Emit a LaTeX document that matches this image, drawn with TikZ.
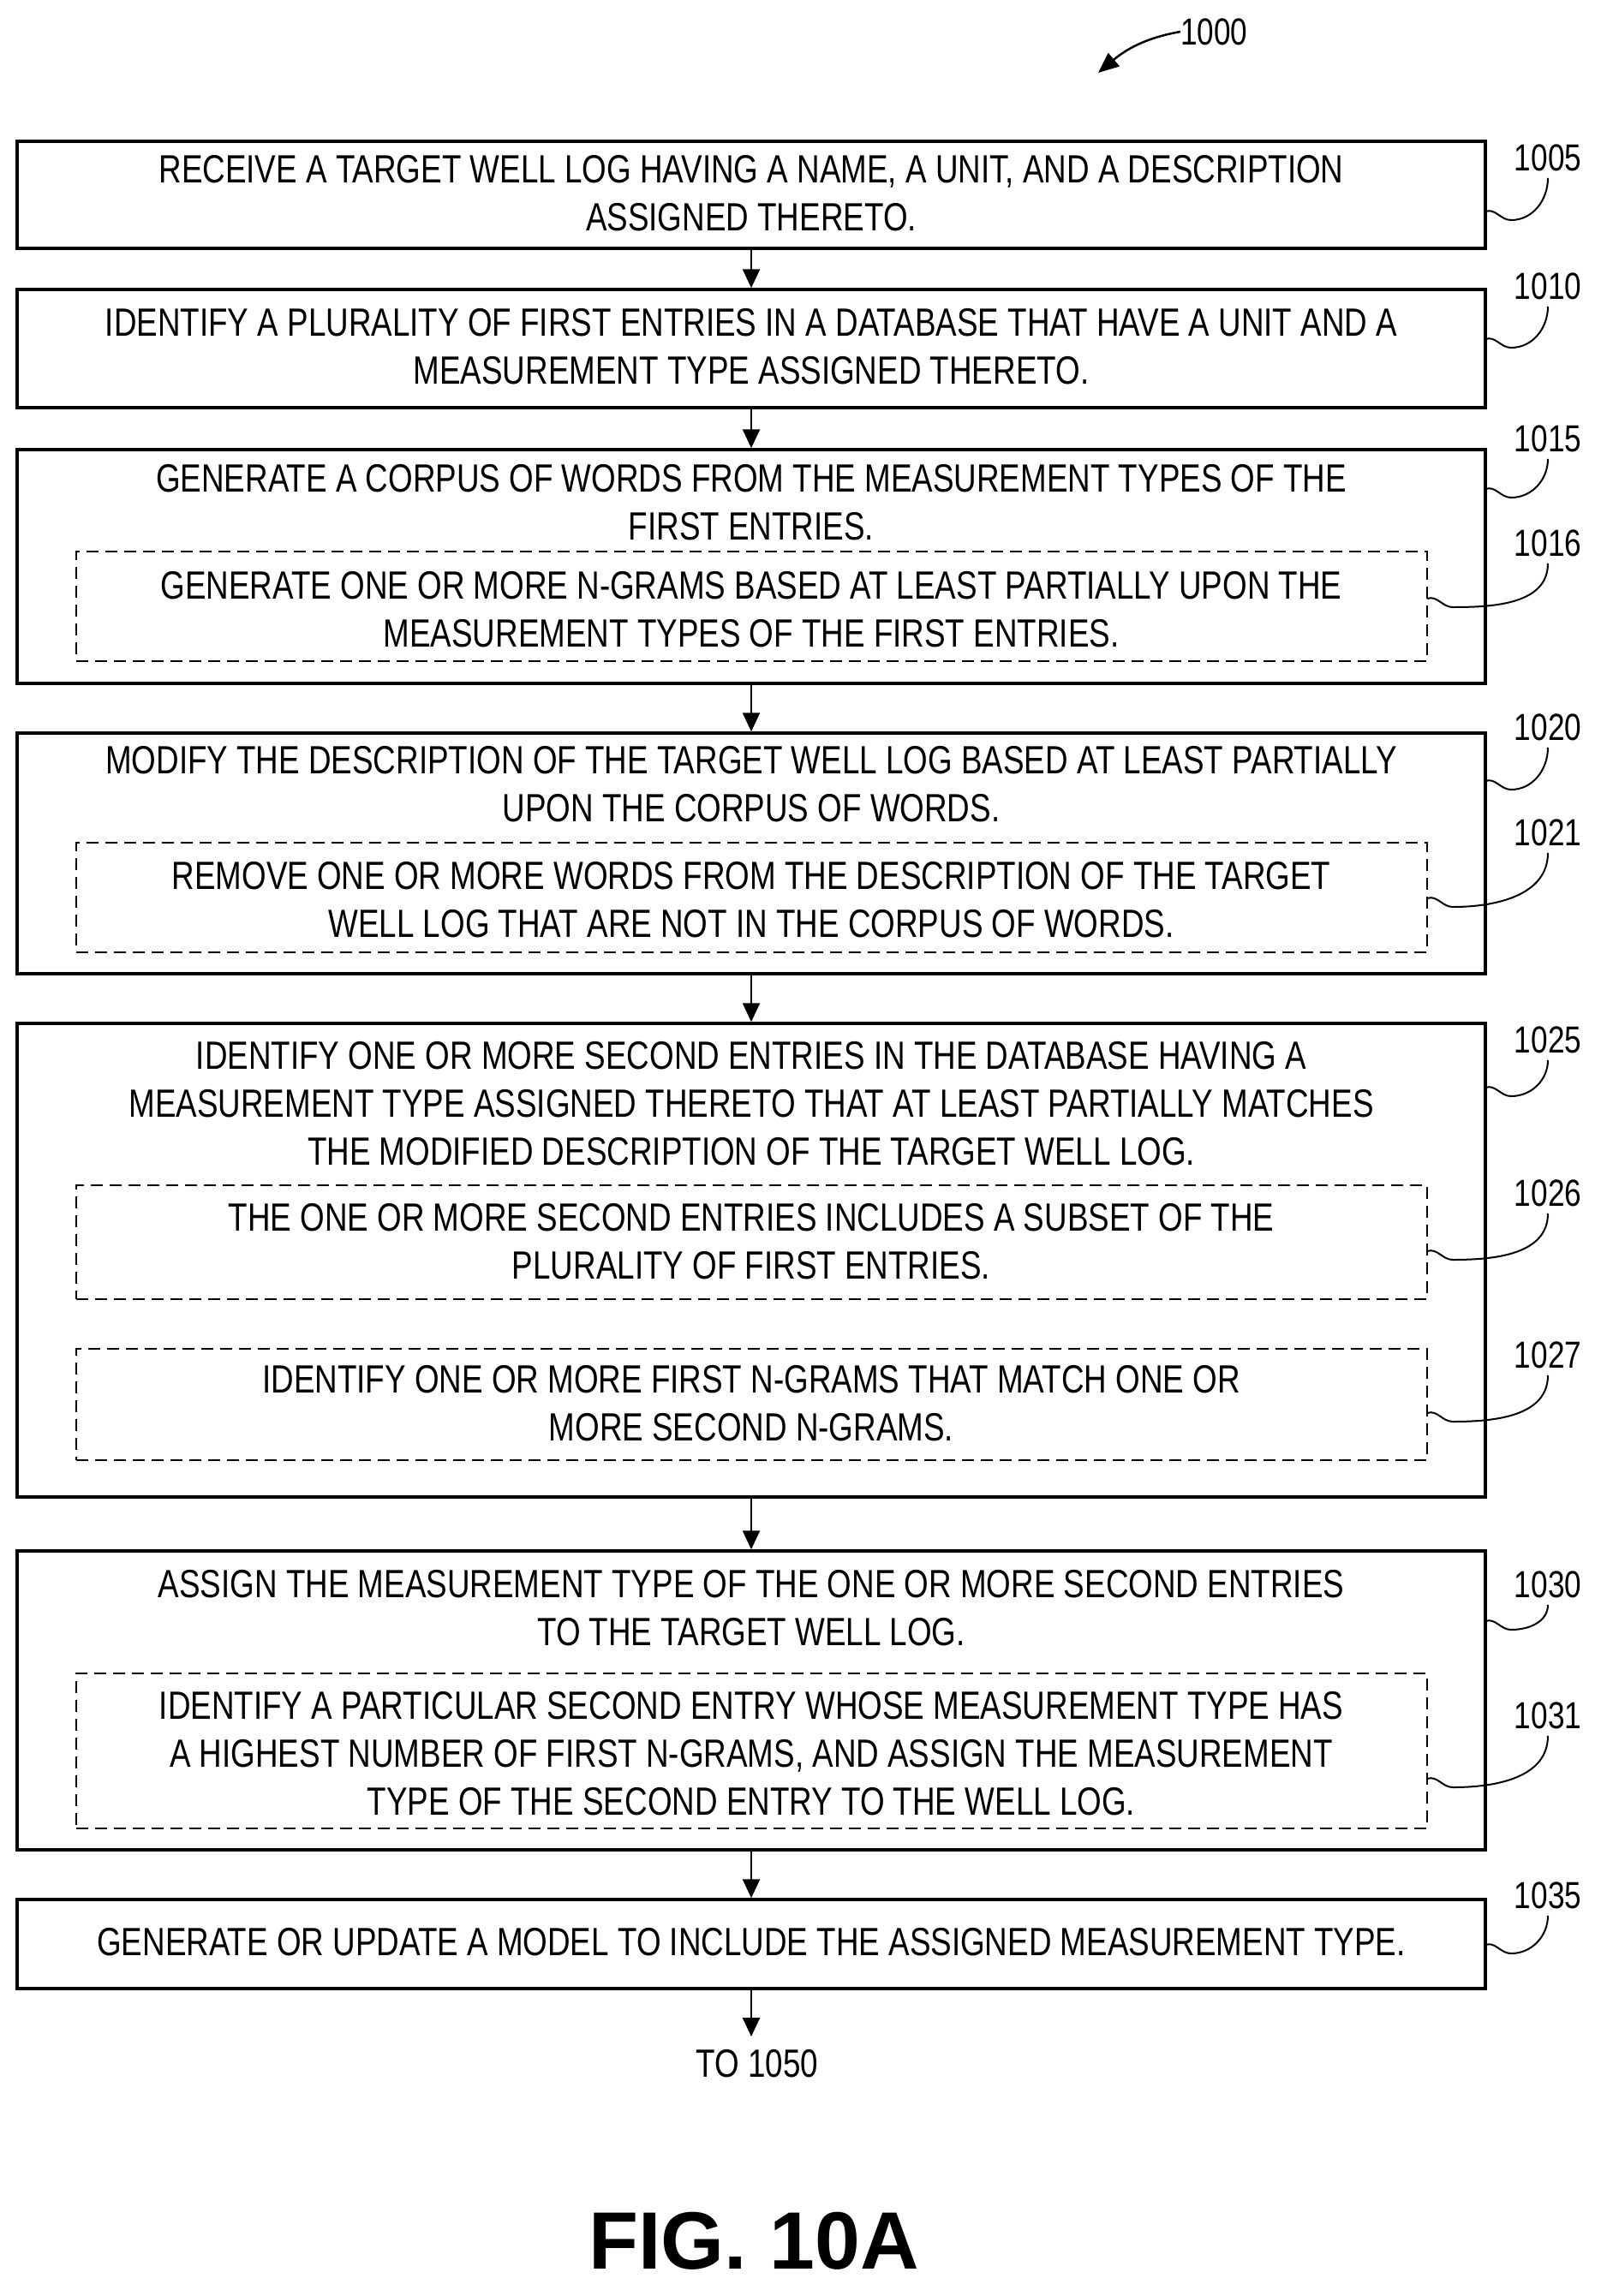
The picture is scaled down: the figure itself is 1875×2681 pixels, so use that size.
\documentclass[tikz,border=0pt]{standalone}
\usepackage{fontspec}
\setmainfont{Liberation Sans}
\newfontfamily\cf[FakeStretch=0.8]{Liberation Sans}
\usetikzlibrary{calc,arrows.meta}
\begin{document}
\begin{tikzpicture}[x=1pt,y=-1pt,
  box/.style={draw,line width=3.5pt},
  dbox/.style={draw,line width=2.5pt,dash pattern=on 14pt off 8pt},
  txt/.style={font=\cf\fontsize{46}{56}\selectfont,align=center,inner sep=0pt},
  ref/.style={font=\cf\fontsize{44}{50}\selectfont,inner sep=0pt},
  arr/.style={line width=2.5pt,-{Triangle[length=22pt,width=20pt]}},
  lead/.style={line width=2pt}]
\useasboundingbox (0,0) rectangle (1875,2681);
% boxes
\node[box,minimum width=1714pt,minimum height=125pt] (b1005) at (877,227.5) {};
\node[box,minimum width=1714pt,minimum height=138pt] (b1010) at (877,407) {};
\node[box,minimum width=1714pt,minimum height=273pt] (b1015) at (877,661.5) {};
\node[dbox,minimum width=1577pt,minimum height=128pt] (b1016) at (877.5,708) {};
\node[box,minimum width=1714pt,minimum height=281pt] (b1020) at (877,996.5) {};
\node[dbox,minimum width=1577pt,minimum height=128pt] (b1021) at (877.5,1048) {};
\node[box,minimum width=1714pt,minimum height=553pt] (b1025) at (877,1471.5) {};
\node[dbox,minimum width=1577pt,minimum height=133pt] (b1026) at (877.5,1450.5) {};
\node[dbox,minimum width=1577pt,minimum height=130pt] (b1027) at (877.5,1640) {};
\node[box,minimum width=1714pt,minimum height=349pt] (b1030) at (877,1985.5) {};
\node[dbox,minimum width=1577pt,minimum height=181pt] (b1031) at (877.5,2044.5) {};
\node[box,minimum width=1714pt,minimum height=104pt] (b1035) at (877,2270) {};
% texts
\node[txt] (t1005) at (877,226) {RECEIVE A TARGET WELL LOG HAVING A NAME, A UNIT, AND A DESCRIPTION\\ASSIGNED THERETO.};
\node[txt] (t1010) at (877,405) {IDENTIFY A PLURALITY OF FIRST ENTRIES IN A DATABASE THAT HAVE A UNIT AND A\\MEASUREMENT TYPE ASSIGNED THERETO.};
\node[txt] (t1015) at (877,587) {GENERATE A CORPUS OF WORDS FROM THE MEASUREMENT TYPES OF THE\\FIRST ENTRIES.};
\node[txt] (t1016) at (877,712) {GENERATE ONE OR MORE N-GRAMS BASED AT LEAST PARTIALLY UPON THE\\MEASUREMENT TYPES OF THE FIRST ENTRIES.};
\node[txt] (t1020) at (877,916) {MODIFY THE DESCRIPTION OF THE TARGET WELL LOG BASED AT LEAST PARTIALLY\\UPON THE CORPUS OF WORDS.};
\node[txt] (t1021) at (877,1051) {REMOVE ONE OR MORE WORDS FROM THE DESCRIPTION OF THE TARGET\\WELL LOG THAT ARE NOT IN THE CORPUS OF WORDS.};
\node[txt] (t1025) at (877,1289) {IDENTIFY ONE OR MORE SECOND ENTRIES IN THE DATABASE HAVING A\\MEASUREMENT TYPE ASSIGNED THERETO THAT AT LEAST PARTIALLY MATCHES\\THE MODIFIED DESCRIPTION OF THE TARGET WELL LOG.};
\node[txt] (t1026) at (877,1450) {THE ONE OR MORE SECOND ENTRIES INCLUDES A SUBSET OF THE\\PLURALITY OF FIRST ENTRIES.};
\node[txt] (t1027) at (877,1639) {IDENTIFY ONE OR MORE FIRST N-GRAMS THAT MATCH ONE OR\\MORE SECOND N-GRAMS.};
\node[txt] (t1030) at (877,1878) {ASSIGN THE MEASUREMENT TYPE OF THE ONE OR MORE SECOND ENTRIES\\TO THE TARGET WELL LOG.};
\node[txt] (t1031) at (877,2048) {IDENTIFY A PARTICULAR SECOND ENTRY WHOSE MEASUREMENT TYPE HAS\\A HIGHEST NUMBER OF FIRST N-GRAMS, AND ASSIGN THE MEASUREMENT\\TYPE OF THE SECOND ENTRY TO THE WELL LOG.};
\node[txt] (t1035) at (877,2268) {GENERATE OR UPDATE A MODEL TO INCLUDE THE ASSIGNED MEASUREMENT TYPE.};
\node[txt] (to) at (884,2410) {TO 1050};
\coordinate (end) at (877,2378);
\node[inner sep=0pt,font=\bfseries\fontsize{95}{100}\selectfont] (fig) at (880,2617) {FIG. 10A};
% arrows
\draw[arr] (b1005.south) -- (b1010.north);
\draw[arr] (b1010.south) -- (b1015.north);
\draw[arr] (b1015.south) -- (b1020.north);
\draw[arr] (b1020.south) -- (b1025.north);
\draw[arr] (b1025.south) -- (b1030.north);
\draw[arr] (b1030.south) -- (b1035.north);
\draw[arr] (b1035.south) -- (end);
% title ref
\node[ref,anchor=west] (r1000) at (1378,37) {1000};
\coordinate (a1000) at (1282,85);
\draw[line width=2.5pt,-{Triangle[length=24pt,width=20pt]}] (r1000.west) to[out=190,in=40] (a1000);
% ref labels and leaders
\foreach \n/\ly/\bx/\ey in {1005/184/1734/247,1010/334/1734/396,1015/512/1734/571,1016/634/1666/699,1020/849/1734/912,1021/972/1666/1049,1025/1214/1734/1270,1026/1393/1666/1461,1027/1582/1666/1650,1030/1850/1734/1893,1031/2003/1666/2077,1035/2213/1734/2271}{
  \node[ref] (r\n) at (1807,\ly) {\n};
  \coordinate (e\n) at (\bx,\ey);
  \draw[lead] (e\n) to[out=20,in=180] ($(e\n)+(30,10)$) to[out=0,in=-90] ($(r\n.south)+(0,8)$);
}
\end{tikzpicture}
\end{document}
